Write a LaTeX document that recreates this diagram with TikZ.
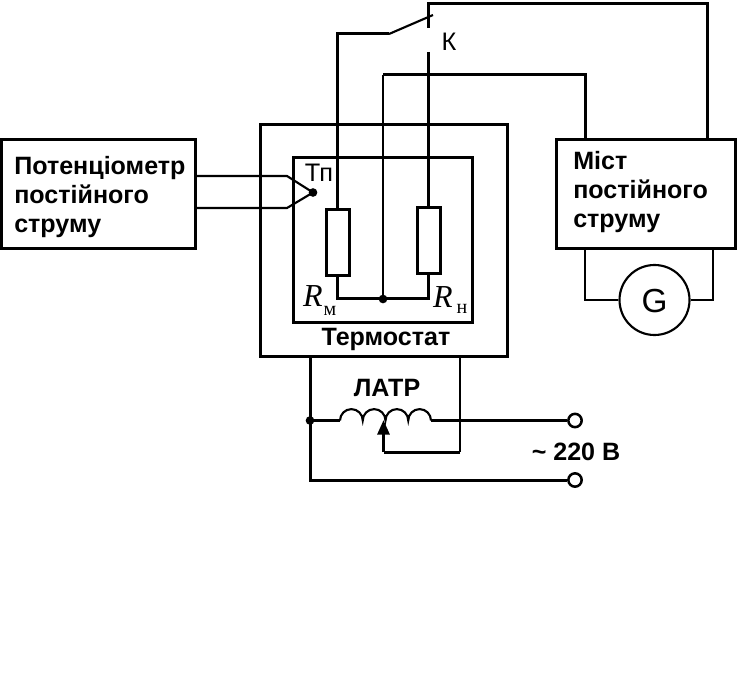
\documentclass[tikz,border=0pt]{standalone}
\usepackage{fontspec}
\setmainfont{Liberation Sans}
\newfontfamily\serifcyr{Liberation Serif}
\usetikzlibrary{arrows.meta}

\begin{document}
\begin{tikzpicture}[x = 0.75pt, y = -0.75pt,
						wire/.style = {line width = 2.25pt},
						thin wire/.style = {line width = 1.6pt},
						plate/.style = {draw, line width = 2.25pt, inner sep = 0pt},
						labeltext/.style = {font = \fontsize{18.8}{21.8}\selectfont\bfseries, inner sep = 0pt},
						plaintext/.style = {font = \fontsize{19}{21}\selectfont, inner sep = 0pt},
						terminal/.style = {draw, circle, line width = 1.9pt, fill = white, minimum size = 10pt, inner sep = 0pt},
						joint/.style = {fill, circle, minimum size = 6.5pt, inner sep = 0pt},
						]
	
		\useasboundingbox (0, 0) rectangle (738, 677);
		
		% Boxes
		\node[plate, minimum width = 145.5pt, minimum height = 81pt] (potentiometer) at (98, 194) {};
		\node[plate, minimum width = 185.25pt, minimum height = 173.25pt] (thermostat) at (383.5, 240.5) {};
		\node[plate, minimum width = 134.25pt, minimum height = 123pt] (chamber) at (382.5, 240) {};
		\node[plate, minimum width = 134.25pt, minimum height = 81pt] (bridge) at (645.5, 194) {};
		\node[draw, line width = 1.6pt, inner sep = 0pt, minimum size = 52.5pt, circle] (galvanometer) at (654.5, 300) {};
		
		% Resistors
		\node[plate, minimum width = 17.25pt, minimum height = 48.75pt] (Rm) at (337.5, 242.5) {};
		\node[plate, minimum width = 17.25pt, minimum height = 48.75pt] (Rn) at (428.5, 240.5) {};
		
		% Box labels
		\node[labeltext, anchor = west, align = left] (potentiometerText) at (14, 197) {Потенціометр\\постійного\\струму};
		\node[labeltext, anchor = west, align = left] (bridgeText) at (573, 192) {Міст\\постійного\\струму};
		\node[labeltext] (thermostatText) at (386, 339.5) {Термостат};
		\node[labeltext] (latrText) at (387, 388) {ЛАТР};
		\node[labeltext] (voltageText) at (576, 452) {\textasciitilde{} 220 В};
		\node[plaintext] (switchText) at (449, 42) {К};
		\node[plaintext] (couplingText) at (319, 173) {Тп};
		\node[plaintext] (galvanometerText) at (654.5, 301) {\fontsize{25}{25}\selectfont G};
		
		% Resistor labels
		\node[inner sep = 0pt, font = \serifcyr\fontsize{24}{24}\selectfont\itshape] (RmText) at (313, 296) {R};
		\node[inner sep = 0pt, font = \serifcyr\fontsize{15}{15}\selectfont] (RmIndex) at (330, 311) {м};
		\node[inner sep = 0pt, font = \serifcyr\fontsize{24}{24}\selectfont\itshape] (RnText) at (443, 297) {R};
		\node[inner sep = 0pt, font = \serifcyr\fontsize{15}{15}\selectfont] (RnIndex) at (462, 309) {н};
		
		% Switch and wires on top
		\coordinate (switchLeft) at (337.5, 34);
		\coordinate (switchHinge) at (389, 34);
		\coordinate (switchTip) at (433, 15);
		\coordinate (contactTop) at (428.5, 28);
		\coordinate (contactBottom) at (428.5, 52);
		\coordinate (topLeft) at (428.5, 3.5);
		\coordinate (topRight) at (707, 3.5);
		\coordinate (bridgeRight) at (707, 140);
		\coordinate (midTop) at (383, 75);
		\coordinate (midRight) at (585, 75);
		\coordinate (bridgeLeft) at (585, 140);
		
		\draw[wire] (contactTop) -- (topLeft) -- (topRight) -- (bridgeRight);
		\draw[wire] (Rm.north) -- (switchLeft) -- (switchHinge);
		\draw[thin wire] (switchHinge) -- (switchTip);
		\draw[wire] (contactBottom) -- (Rn.north);
		
		% Middle wire
		\coordinate (junctionTop) at (383, 299);
		\draw[thin wire] (junctionTop) -- (midTop);
		\draw[wire] (midTop) -- (midRight) -- (bridgeLeft);
		
		% Resistors to junction
		\coordinate (RmBottom) at (337.5, 298);
		\coordinate (RnBottom) at (428.5, 298);
		\draw[wire] (Rm.south) -- (RmBottom) -- (RnBottom) -- (Rn.south);
		\node[joint] (junction) at (383, 299) {};
		
		% Galvanometer
		\coordinate (galvLeftTop) at (585, 248);
		\coordinate (galvLeft) at (585, 300);
		\coordinate (galvRightTop) at (713, 248);
		\coordinate (galvRight) at (713, 300);
		\draw[thin wire] (galvLeftTop) -- (galvLeft) -- (galvanometer.west);
		\draw[thin wire] (galvRightTop) -- (galvRight) -- (galvanometer.east);
		
		% Thermocouple
		\node[joint] (coupling) at (313, 192.5) {};
		\coordinate (upperOut) at (195, 176);
		\coordinate (upperKink) at (287, 176);
		\coordinate (lowerOut) at (195, 208);
		\coordinate (lowerKink) at (287, 208);
		\draw[thin wire] (upperOut) -- (upperKink) -- (coupling.center);
		\draw[thin wire] (lowerOut) -- (lowerKink) -- (coupling.center);
		
		% Autotransformer
		\coordinate (heaterLeft) at (310, 356);
		\coordinate (heaterCorner) at (310, 480);
		\coordinate (heaterRight) at (460, 356);
		\coordinate (sliderCorner) at (460, 452);
		\coordinate (sliderBottom) at (383.5, 452);
		\coordinate (sliderTip) at (383.5, 420);
		\coordinate (coilLeft) at (340, 420.5);
		\coordinate (coilRight) at (431, 420.5);
		\node[joint] (coilJoint) at (310, 420.5) {};
		\node[terminal] (mainsUpper) at (575, 420.5) {};
		\node[terminal] (mainsLower) at (575, 480) {};
		
		\draw[wire] (heaterLeft) -- (heaterCorner) -- (mainsLower);
		\draw[thin wire] (heaterRight) -- (sliderCorner);
		\draw[wire] (sliderCorner) -- (sliderBottom);
		\draw[wire, -{Triangle[length = 11pt, width = 9pt]}] (sliderBottom) -- (sliderTip);
		\draw[thin wire] (coilJoint.center) -- (coilLeft);
		\draw[thin wire] (coilLeft) arc[start angle = 180, end angle = 0, radius = 8.53pt]
			arc[start angle = 180, end angle = 0, radius = 8.53pt]
			arc[start angle = 180, end angle = 0, radius = 8.53pt]
			arc[start angle = 180, end angle = 0, radius = 8.53pt];
		\draw[wire] (coilRight) -- (mainsUpper);
		
	\end{tikzpicture}
\end{document}
